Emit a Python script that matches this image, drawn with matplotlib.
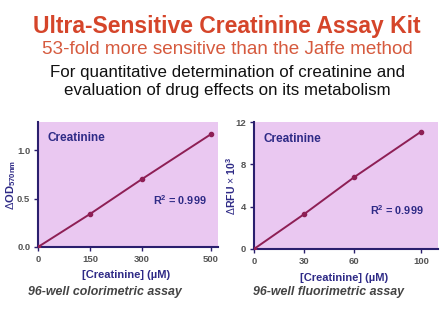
import matplotlib
matplotlib.use("Agg")
import matplotlib.pyplot as plt

plt.rcParams['font.family'] = ['Liberation Sans', 'DejaVu Sans']
plt.rcParams['mathtext.fontset'] = 'custom'
plt.rcParams['mathtext.rm'] = 'Liberation Sans'
plt.rcParams['mathtext.bf'] = 'Liberation Sans:bold'
plt.rcParams['mathtext.it'] = 'Liberation Sans:italic'

# Data
conc_color = [0, 150, 300, 500]
od_color = [0.0, 0.34, 0.70, 1.165]
conc_fluor = [0, 30, 60, 100]
rfu_fluor = [0.0, 3.3, 6.8, 11.1]
xticks_color = [0, 150, 300, 500]
yticks_color = [0.0, 0.5, 1.0]
xticks_fluor = [0, 30, 60, 100]
yticks_fluor = [0, 4, 8, 12]

title = "Ultra-Sensitive Creatinine Assay Kit"
subtitle = "53-fold more sensitive than the Jaffe method"
desc1 = "For quantitative determination of creatinine and"
desc2 = "evaluation of drug effects on its metabolism"

BG = "#EAC8F1"
LINE = "#8E1F55"
NAVY = "#2E2A86"
SPINE = "#2B1F6E"
TICKC = "#555555"

fig = plt.figure(figsize=(4.41, 3.11), dpi=100)
fig.patch.set_facecolor("white")

cx = 227 / 441
fig.text(cx, 1 - 27/311, title, ha="center", va="center", fontsize=16.5,
         fontweight="bold", color="#D5452A")
fig.text(cx, 1 - 50/311, subtitle, ha="center", va="center", fontsize=13.6,
         color="#D65A3E")
fig.text(cx, 1 - 72/311, desc1, ha="center", va="center", fontsize=12.2,
         color="#111111")
fig.text(cx, 1 - 90/311, desc2, ha="center", va="center", fontsize=12.2,
         color="#111111")

def style_ax(ax, xs, ys, xt, yt, xlim, ylim, ylabel, ylab_fs, caption, cap_x,
             ylab_x, xlab_y, name_xy, r2_xy):
    ax.set_facecolor(BG)
    ax.plot(xs, ys, color=LINE, lw=1.4, zorder=3)
    ax.plot(xs, ys, 'o', color=LINE, ms=3, zorder=4)
    ax.set_xlim(*xlim)
    ax.set_ylim(*ylim)
    ax.set_xticks(xt)
    ax.set_yticks(yt)
    ax.spines['top'].set_visible(False)
    ax.spines['right'].set_visible(False)
    for s in ('left', 'bottom'):
        ax.spines[s].set_color(SPINE)
        ax.spines[s].set_linewidth(1.5)
    ax.tick_params(colors=SPINE, labelcolor=TICKC, labelsize=6.8, length=3,
                   width=1, pad=2.5)
    for lab in ax.get_xticklabels() + ax.get_yticklabels():
        lab.set_fontweight("bold")
    ax.set_xlabel("[Creatinine] (µM)", color=NAVY, fontsize=8,
                  fontweight="bold", va="center")
    ax.xaxis.set_label_coords(0.49, xlab_y)
    ax.set_ylabel(ylabel, color=NAVY, fontsize=ylab_fs, fontweight="bold",
                  va="center")
    ax.yaxis.set_label_coords(ylab_x, 0.5)
    ax.text(name_xy[0], name_xy[1], "Creatinine", transform=ax.transAxes,
            color=NAVY, fontsize=8.5, fontweight="bold", va="center")
    ax.text(r2_xy[0], r2_xy[1], r"R$^\mathbf{2}$ = 0.999",
            transform=ax.transAxes, color=NAVY, fontsize=7.8,
            fontweight="bold", va="center", ha="center")
    fig.text(cap_x, 1 - 292/311, caption, ha="left", va="center",
             fontsize=8.9, fontstyle="italic", fontweight="bold",
             color="#444444")

ax1 = fig.add_axes([38/441, 1 - 247/311, 180/441, 125/311])
style_ax(ax1, conc_color, od_color, xticks_color, yticks_color,
         (0, 520), (0, 1.29), r"$\Delta$OD$_{\mathbf{570nm}}$", 8,
         "96-well colorimetric assay", 28/441,
         -0.15, -28/125, (0.05, 0.87), (0.79, 0.376))

ax2 = fig.add_axes([254/441, 1 - 249/311, 184/441, 127/311])
style_ax(ax2, conc_fluor, rfu_fluor, xticks_fluor, yticks_fluor,
         (0, 110), (0, 12), r"$\Delta$RFU $\times$ 10$^\mathbf{3}$", 7.6,
         "96-well fluorimetric assay", 253/441,
         -0.125, -29/127, (0.054, 0.866), (0.777, 0.31))

fig.savefig("out.png", dpi=100, facecolor="white")
